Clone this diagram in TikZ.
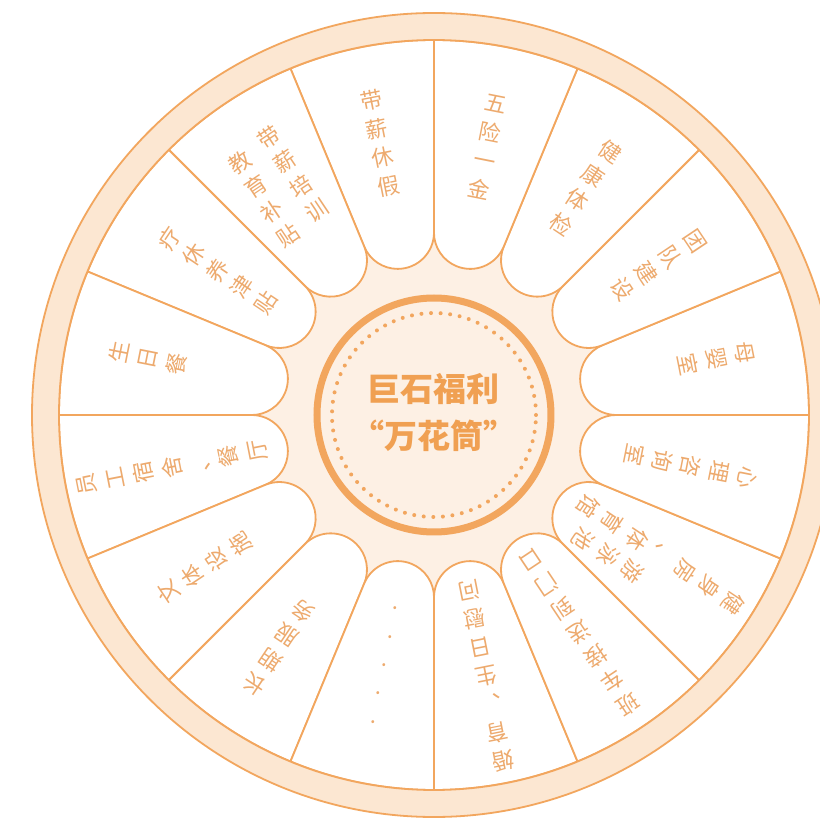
\documentclass[tikz,border=0pt]{standalone}
\usepackage{fontspec}
\newfontfamily\cjk{Noto Sans CJK SC}
\definecolor{wheelline}{HTML}{F2A65E}
\definecolor{ringfill}{HTML}{FCE7D2}
\definecolor{hubfill}{HTML}{FDF0E4}
\definecolor{petalorange}{HTML}{EDAA6E}
\definecolor{hubtext}{HTML}{F0A052}
\begin{document}
\begin{tikzpicture}[x=1pt,y=1pt]

      \tikzset{petal/.style={draw=wheelline, fill=white, line width=1.8pt},
               petaltext/.style={text=petalorange, inner sep=0pt, align=center,
                                 font=\cjk\fontsize{22}{29}\selectfont}}
      \useasboundingbox (-434,-404) rectangle (386,415);
      \clip (-434,-404) rectangle (386,415);
%% Background
      \fill[white] (-434,-404) rectangle (386,415);
      \fill[hubfill] (0,0) circle (375pt);
%% Petals
      \foreach \a in {0,22.5,...,337.5}
          \draw[petal] (\a:375pt) -- (\a:182.4pt)
              arc[start angle=\a-90, end angle=\a-247.5, radius=36.3pt]
              -- (\a+22.5:375pt) arc[start angle=\a+22.5, end angle=\a, radius=375pt] -- cycle;
%% Ring
      \draw[wheelline, fill=ringfill, even odd rule, line width=1.8pt]
          (0,0) circle (402pt) (0,0) circle (375pt);
%% Hub
      \draw[wheelline, fill=hubfill, line width=7pt] (0,0) circle (117pt);
      \draw[wheelline, line width=4pt, line cap=round, dash pattern=on 0pt off 9.6pt]
          (0,0) circle (102pt);
      \node[text=hubtext, font=\cjk\bfseries\fontsize{33}{47}\selectfont, align=center] (hub) at (0,2)
          {巨石福利\\“万花筒”};
%% Labels
      \node[petaltext, rotate=11.25] (holiday) at (101.25:277) {带\\薪\\休\\假};
      \node[petaltext, rotate=-11.25] (insure) at (78.75:273) {五\\险\\一\\金};
      \node[petaltext, rotate=-33.75] (check) at (56.25:273) {健\\康\\体\\检};
      \node[petaltext, rotate=-56.25] (team) at (33.75:270) {团\\队\\建\\设};
      \node[petaltext, rotate=-78.75] (mother) at (11.25:288) {母\\婴\\室};
      \node[petaltext, rotate=-101.25] (mind) at (-11.25:262) {心\\理\\咨\\询\\室};
      \node[petaltext, rotate=-123.75] (gym) at (227,-140) {健\\身\\房\\、\\体\\育\\馆};
      \node[petaltext, rotate=-123.75] (pool) at (174,-140) {游\\泳\\池};
      \node[petaltext, rotate=-146.25] (bus) at (-56.25:262) {班\\车\\接\\送\\到\\门\\口};
      \node[petaltext, rotate=-168.75] (visit) at (-78.75:266) {婚\\育\\、\\生\\日\\慰\\问};
      \node[petaltext, rotate=168.75] (more) at (-101.25:255) {.\\.\\.\\.\\.};
      \node[petaltext, rotate=146.25] (long) at (-123.75:280) {长\\期\\服\\务};
      \node[petaltext, rotate=123.75] (sport) at (-146.25:276) {文\\体\\设\\施};
      \node[petaltext, rotate=101.25] (dorm) at (-168.75:267) {员\\工\\宿\\舍\\、\\餐\\厅};
      \node[petaltext, rotate=78.75] (birth) at (168.75:292) {生\\日\\餐};
      \node[petaltext, rotate=56.25] (rest) at (146.25:260) {疗\\休\\养\\津\\贴};
      \node[petaltext, rotate=33.75] (train) at (-141,241) {带\\薪\\培\\训};
      \node[petaltext, rotate=33.75] (edu) at (-170,216) {教\\育\\补\\贴};

\end{tikzpicture}
\end{document}
